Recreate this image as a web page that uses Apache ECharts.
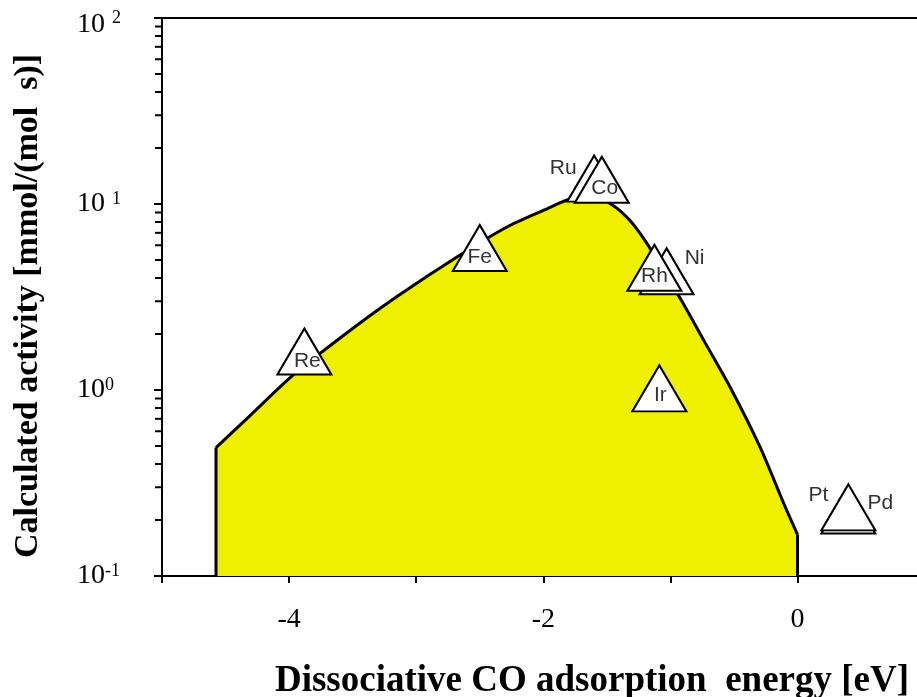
<!DOCTYPE html>
<html>
<head>
<meta charset="utf-8">
<script src="https://cdn.jsdelivr.net/npm/echarts@6/dist/echarts.min.js"></script>
<style>
  html, body { margin: 0; padding: 0; background: #fff; }
  #main { width: 917px; height: 697px; }
</style>
</head>
<body>
<div id="main"></div>
<script>
// activity curve (volcano), x = energy [eV], y = activity
const curveX = [-4.575, -4.315, -3.976, -3.583, -3.157, -2.661, -2.268, -1.992, -1.756, -1.598, -1.457, -1.323, -1.189, -1.047, -0.906, -0.732, -0.535, -0.299, -0.102, 0];
const curveY = [0.49, 0.72, 1.19, 1.94, 3.16, 5.29, 7.64, 9.29, 10.8, 10.9, 9.89, 8.22, 6.2, 4.3, 2.97, 1.82, 1.05, 0.5, 0.24, 0.167];
const yFloor = 0.1;

// metals, drawn back to front
const metals = ["Re", "Fe", "Ru", "Co", "Ni", "Rh", "Ir", "Pd", "Pt"];
const metalX = [-3.88, -2.50, -1.60, -1.54, -1.03, -1.126, -1.087, 0.40, 0.40];
const metalY = [1.61, 5.8, 13.7, 13.5, 4.35, 4.54, 1.02, 0.225, 0.234];
// label offsets from the triangle centre
const labelOffsets = {
  Re: [3, 10], Fe: [0, 9], Ru: [-31, -10], Co: [3, 8], Ni: [28, -13],
  Rh: [0, 8], Ir: [1, 7], Pd: [32, -7], Pt: [-30, -12]
};

const xTicks = [-5, -4, -3, -2, -1, 0];
const xTickLabels = [-4, -2, 0];
const yMinorTicks = [0.2, 0.3, 0.4, 0.5, 0.6, 0.7, 0.8, 0.9, 2, 3, 4, 5, 6, 7, 8, 9, 20, 30, 40, 50, 60, 70, 80, 90];
const yLabels = { 0.1: "10{sup|-1}", 1: "10{sup|0}", 10: "10 {sup|1}", 100: "{top|10 }{topsup|2}" };

const serif = '"Liberation Serif", "Times New Roman", serif';
const sans = '"Liberation Sans", Arial, sans-serif';

const last = curveX.length - 1;
const edgeLine = { color: "#000", width: 3 };

const chart = echarts.init(document.getElementById("main"));

const option = {
  animation: false,
  grid: { left: 162, top: 18, right: 0, bottom: 121 },
  xAxis: [
    {
      type: "value",
      min: -5,
      max: 0.94,
      splitLine: { show: false },
      axisLine: { onZero: false, lineStyle: { color: "#000", width: 2 } },
      axisTick: { length: 7, lineStyle: { color: "#000", width: 2 }, customValues: xTicks },
      axisLabel: {
        customValues: xTickLabels,
        margin: 30,
        color: "#000",
        fontFamily: serif,
        fontSize: 28
      }
    },
    {
      // top frame line
      type: "value",
      position: "top",
      min: -5,
      max: 0.94,
      splitLine: { show: false },
      axisLine: { onZero: false, lineStyle: { color: "#000", width: 2 } },
      axisTick: { show: false },
      axisLabel: { show: false }
    }
  ],
  yAxis: {
    type: "log",
    logBase: 10,
    min: 0.1,
    max: 100,
    splitLine: { show: false },
    axisLine: { onZero: false, lineStyle: { color: "#000", width: 2 } },
    axisTick: { length: 8, lineStyle: { color: "#000", width: 2 } },
    axisLabel: {
      align: "left",
      margin: 85,
      color: "#000",
      formatter: (v) => yLabels[+v.toPrecision(3)] || "",
      rich: {
        sup: { fontFamily: serif, fontSize: 18, verticalAlign: "top", lineHeight: 18, padding: [0, 0, 10, 0] },
        top: { fontFamily: serif, fontSize: 28, padding: [14, 0, 0, 0] },
        topsup: { fontFamily: serif, fontSize: 18 }
      },
      fontFamily: serif,
      fontSize: 28
    }
  },
  graphic: [
    {
      type: "text",
      x: 28,
      y: 306,
      rotation: Math.PI / 2,
      style: {
        text: "Calculated activity [mmol/(mol  s)]",
        font: "bold 34px " + serif,
        fill: "#000",
        align: "center",
        verticalAlign: "middle"
      }
    },
    {
      type: "text",
      x: 592,
      y: 681,
      style: {
        text: "Dissociative CO adsorption  energy [eV]",
        font: "bold 37px " + serif,
        fill: "#000",
        align: "center",
        verticalAlign: "middle"
      }
    }
  ],
  series: [
    {
      type: "line",
      data: curveX.map((x, i) => [x, curveY[i]]),
      symbol: "none",
      smooth: 0.25,
      lineStyle: edgeLine,
      areaStyle: { color: "#EFEF00", opacity: 1, origin: "start" },
      z: 2
    },
    {
      // vertical left edge of the filled region
      type: "line",
      data: [[curveX[0], yFloor], [curveX[0], curveY[0]]],
      symbol: "none",
      lineStyle: edgeLine,
      z: 2
    },
    {
      // vertical right edge
      type: "line",
      data: [[curveX[last], curveY[last]], [curveX[last], yFloor]],
      symbol: "none",
      lineStyle: edgeLine,
      z: 2
    },
    {
      // log minor ticks on the y axis
      type: "custom",
      clip: false,
      data: yMinorTicks,
      renderItem: (params, api) => {
        const p = api.coord([-5, api.value(0)]);
        return {
          type: "line",
          shape: { x1: p[0] - 7, y1: p[1], x2: p[0], y2: p[1] },
          style: { stroke: "#000", lineWidth: 2 }
        };
      },
      encode: { y: 0 },
      z: 3
    },
    {
      type: "scatter",
      symbol: "triangle",
      symbolSize: [54, 46],
      itemStyle: { color: "#fff", borderColor: "#000", borderWidth: 2, opacity: 1 },
      label: {
        show: true,
        position: "inside",
        formatter: (p) => p.data.name,
        color: "#333",
        fontFamily: sans,
        fontSize: 21
      },
      data: metals.map((m, i) => ({
        name: m,
        value: [metalX[i], metalY[i]],
        label: { offset: labelOffsets[m] }
      })),
      z: 5
    }
  ]
};

chart.setOption(option);
</script>
</body>
</html>
